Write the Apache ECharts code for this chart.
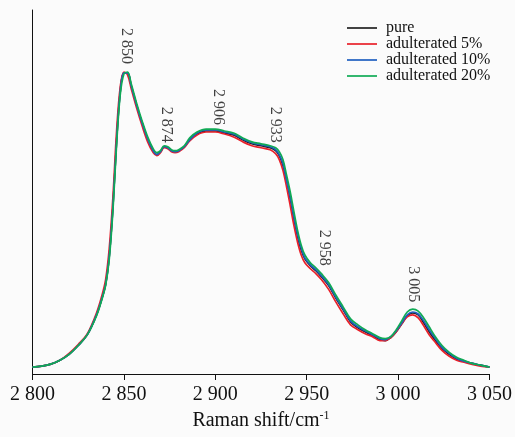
<!DOCTYPE html>
<html>
<head>
<meta charset="utf-8">
<script src="https://cdn.jsdelivr.net/npm/echarts@6/dist/echarts.min.js"></script>
<style>
  html, body { margin: 0; padding: 0; background: #fbfbfb; }
  #chart { width: 515px; height: 437px; }
</style>
</head>
<body>
<div id="chart"></div>
<script>
// Raman shift (cm^-1) sampling grid shared by all spectra
const wavenumbers = [2800, 2805, 2810, 2815, 2820, 2825, 2830, 2835, 2838, 2840, 2842, 2844, 2846, 2848, 2850, 2852, 2854, 2857, 2860, 2863, 2866, 2868, 2870, 2872, 2874, 2876, 2878, 2880, 2883, 2886, 2890, 2895, 2900, 2905, 2910, 2915, 2920, 2925, 2930, 2933, 2935, 2937, 2939, 2941, 2943, 2945, 2947, 2949, 2952, 2955, 2958, 2962, 2966, 2970, 2974, 2978, 2982, 2986, 2990, 2993, 2996, 2999, 3002, 3005, 3008, 3011, 3014, 3017, 3020, 3024, 3028, 3032, 3036, 3040, 3045, 3050];

// Intensities (arbitrary units)
const pure = [7, 8, 10, 14, 20, 29, 40, 60, 77, 91, 120, 170, 237, 287, 306, 306, 293, 273, 255, 239, 227, 223, 226, 231, 230, 227, 226, 227, 231, 238, 244, 247, 247, 245, 243, 238, 234, 232, 230, 227, 222, 212, 197, 178, 158, 140, 126, 117, 110, 105, 99, 90, 77, 65, 53, 47, 43, 39, 35, 34, 37, 43, 51, 59, 62, 60, 52, 43, 35, 26, 20, 15, 13, 11, 9, 7];
const adulterated5 = [7, 8, 10, 14, 21, 30, 41, 62, 80, 96, 128, 180, 247, 292, 307, 304, 290, 270, 252, 236, 225, 222, 225, 230, 229, 226, 225, 226, 230, 237, 243, 246, 246, 244, 241, 236, 232, 230, 228, 224, 218, 207, 190, 171, 151, 134, 121, 113, 107, 102, 96, 86, 73, 61, 50, 45, 41, 38, 34, 34, 37, 43, 51, 58, 60, 57, 49, 40, 33, 24, 18, 14, 12, 10, 8, 7];
const adulterated10 = [7, 8, 10, 14, 20, 29, 40, 60, 77, 91, 120, 170, 237, 287, 306, 306, 293, 273, 255, 239, 227, 223, 226, 231, 230, 227, 226, 227, 231, 238, 245, 248, 248, 246, 244, 239, 235, 233, 231, 228, 223, 214, 197, 180, 160, 142, 128, 118, 111, 106, 100, 91, 78, 66, 54, 48, 44, 40, 36, 35, 38, 44, 52, 60, 63, 61, 54, 45, 37, 27, 21, 16, 13, 11, 9, 7];
const adulterated20 = [7, 8, 10, 14, 20, 29, 40, 59, 76, 90, 117, 166, 233, 284, 305, 307, 295, 275, 257, 241, 229, 225, 227, 232, 231, 228, 227, 228, 232, 240, 246, 249, 249, 247, 245, 240, 236, 234, 232, 230, 226, 218, 202, 185, 165, 146, 131, 121, 113, 108, 102, 93, 80, 68, 56, 50, 45, 41, 37, 36, 38, 45, 54, 63, 66, 64, 57, 48, 39, 29, 22, 17, 14, 11, 9, 7];

const seriesNames = ['pure', 'adulterated 5%', 'adulterated 10%', 'adulterated 20%'];
const seriesColors = ['#222222', '#e8202a', '#1f5fc0', '#10aa55'];

// Band positions marked on the spectrum, and the height of each label's lower end
const peakLabels = [2850, 2874, 2906, 2933, 2958, 3005];
const peakLabelLevels = [315, 235, 253, 235, 110, 73];
// Small horizontal nudges (px) so labels sit over their bands
const peakLabelNudge = [2, -2, -8, 0, 3, 6];

const serif = 'Liberation Serif, Times New Roman, serif';
const fmtThousands = v => {
  const s = String(Math.round(v));
  return s.length > 3 ? s.slice(0, s.length - 3) + ' ' + s.slice(-3) : s;
};

const spectra = [pure, adulterated5, adulterated10, adulterated20];
const lineSeries = spectra.map((vals, i) => ({
  name: seriesNames[i],
  type: 'line',
  smooth: 0.35,
  symbol: 'none',
  data: wavenumbers.map((w, k) => [w, vals[k]]),
  lineStyle: { color: seriesColors[i], width: 1.7 },
  itemStyle: { color: seriesColors[i] },
  z: 2 + i
}));

// Labels are turned a quarter clockwise, so a screen-horizontal shift is the label's local -y
const labelSeries = {
  type: 'scatter',
  symbolSize: 0,
  silent: true,
  z: 10,
  data: peakLabels.map((w, i) => ({
    value: [w, peakLabelLevels[i]],
    label: { offset: [0, -peakLabelNudge[i]] }
  })),
  label: {
    show: true,
    position: 'inside',
    rotate: -90,
    align: 'right',
    verticalAlign: 'middle',
    color: '#111',
    fontFamily: serif,
    fontSize: 16,
    formatter: p => fmtThousands(p.value[0])
  }
};

const chart = echarts.init(document.getElementById('chart'), null, { renderer: 'canvas' });
chart.setOption({
  backgroundColor: '#fbfbfb',
  animation: false,
  grid: { left: 32.5, right: 22.5, top: 10, bottom: 57 },
  legend: {
    orient: 'vertical',
    left: 347,
    top: 20,
    padding: 0,
    icon: 'rect',
    itemWidth: 30,
    itemHeight: 1.7,
    itemGap: 0,
    textStyle: { fontFamily: serif, fontSize: 16, color: '#111', lineHeight: 16, padding: [0, 0, 0, 4] },
    data: seriesNames
  },
  xAxis: {
    type: 'value',
    min: 2800,
    max: 3050,
    interval: 50,
    name: '{a|Raman shift/cm}{b|-1}',
    nameLocation: 'middle',
    nameGap: 36,
    nameTextStyle: {
      rich: {
        a: { fontFamily: serif, fontSize: 20, color: '#111', lineHeight: 22 },
        b: { fontFamily: serif, fontSize: 12, color: '#111', lineHeight: 22, verticalAlign: 'top', padding: [0, 0, 10, 0] }
      }
    },
    axisLine: { show: true, lineStyle: { color: '#111', width: 1 } },
    axisTick: { show: true, inside: false, length: 6, lineStyle: { color: '#111' } },
    axisLabel: { margin: 11, fontFamily: serif, fontSize: 20, color: '#111', formatter: fmtThousands },
    splitLine: { show: false }
  },
  yAxis: {
    type: 'value',
    min: 0,
    max: 370,
    axisLine: { show: true, lineStyle: { color: '#111', width: 1 } },
    axisTick: { show: false },
    axisLabel: { show: false },
    splitLine: { show: false }
  },
  series: [...lineSeries, labelSeries]
});
</script>
</body>
</html>
